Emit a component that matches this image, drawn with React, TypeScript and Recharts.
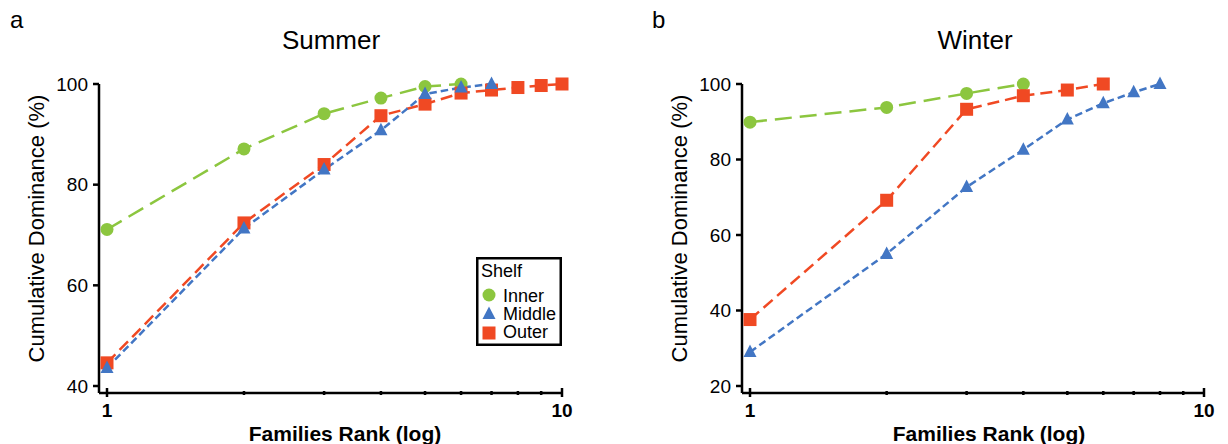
import React from 'react';
import { LineChart, Line, XAxis, YAxis, Legend } from 'recharts';

const GREEN = '#8cc63f';
const BLUE = '#4276c4';
const RED = '#f04923';
const FONT = '"Liberation Sans", Arial, sans-serif';

// family rank (x) and cumulative dominance in % (y)
const ranks = [1, 2, 3, 4, 5, 6, 7, 8, 9, 10];
const summerInner = [71.1, 87.1, 94.1, 97.2, 99.5, 100];
const summerMiddle = [43.6, 71.3, 83.0, 90.8, 98.0, 99.3, 100];
const summerOuter = [44.6, 72.4, 84.0, 93.7, 96.0, 98.2, 98.8, 99.3, 99.7, 100];
const winterInner = [89.9, 93.8, 97.5, 100];
const winterMiddle = [29.0, 55.0, 72.7, 82.6, 90.6, 94.9, 97.8, 100];
const winterOuter = [37.6, 69.2, 93.3, 96.9, 98.4, 100];

const shelves = ['Inner', 'Middle', 'Outer'];
const rankLabels = [1, 10];
const summerYTicks = [40, 60, 80, 100];
const winterYTicks = [20, 40, 60, 80, 100];

const toPoints = (values: number[]) => values.map((v, i) => ({ rank: ranks[i], value: v }));

function marker(name: string, cx: number, cy: number, key?: any) {
  if (name === 'Inner') return <circle key={key} cx={cx} cy={cy} r={6.5} fill={GREEN} />;
  if (name === 'Middle')
    return (
      <polygon
        key={key}
        points={`${cx},${cy - 7.5} ${cx + 6.5},${cy + 5} ${cx - 6.5},${cy + 5}`}
        fill={BLUE}
      />
    );
  return <rect key={key} x={cx - 6.5} y={cy - 6.5} width={13} height={13} fill={RED} />;
}

const dotFor = (name: string) => (props: any) => {
  const { cx, cy, index } = props;
  if (cx == null || cy == null) return null;
  return marker(name, cx, cy, index);
};

function XTick(props: any) {
  const { x, y, payload } = props;
  const major = rankLabels.includes(payload.value);
  return (
    <g>
      <line
        x1={x}
        x2={x}
        y1={y - (major ? 5 : 2)}
        y2={y + (major ? 4 : 2)}
        stroke="#000"
        strokeWidth={2.5}
      />
      {major && (
        <text x={x} y={y + 24} textAnchor="middle" fontSize={19} fontWeight="bold" fill="#000">
          {payload.value}
        </text>
      )}
    </g>
  );
}

function ShelfLegend(props: any) {
  const items = [...(props.payload || [])].sort(
    (a: any, b: any) => shelves.indexOf(a.value) - shelves.indexOf(b.value)
  );
  return (
    <svg width={86} height={89} style={{ display: 'block' }}>
      <rect x={1.25} y={1.25} width={83.5} height={86.5} fill="#fff" stroke="#000" strokeWidth={2.5} />
      <text x={5} y={20} fontSize={18} fill="#000">
        Shelf
      </text>
      {items.map((it: any, i: number) => (
        <g key={it.value}>
          {marker(it.value, 13, 38 + i * 19)}
          <text x={27} y={45 + i * 18} fontSize={18} fill="#000">
            {it.value}
          </text>
        </g>
      ))}
    </svg>
  );
}

interface PanelProps {
  left: number;
  inner: number[];
  middle: number[];
  outer: number[];
  yDomain: [number, number];
  yTicks: number[];
  yWidth: number;
  rightMargin: number;
  yLabelDx: number;
  xLabelDx: number;
  showLegend?: boolean;
}

function Panel(p: PanelProps) {
  return (
    <div style={{ position: 'absolute', left: p.left, top: 0 }}>
      <LineChart width={614} height={444} margin={{ top: 84, right: p.rightMargin, bottom: 0, left: 0 }}>
        <XAxis
          dataKey="rank"
          type="number"
          scale="log"
          domain={[1, 10]}
          ticks={ranks}
          padding={{ left: 8, right: 0 }}
          height={51}
          axisLine={{ stroke: '#000', strokeWidth: 2.5 }}
          tickLine={false}
          tickSize={0}
          tickMargin={0}
          tick={<XTick />}
          interval={0}
          label={{
            value: 'Families Rank (log)',
            position: 'insideBottom',
            offset: 3,
            dx: p.xLabelDx,
            style: { fontSize: 21, fontWeight: 'bold', fill: '#000', fontFamily: FONT },
          }}
        />
        <YAxis
          type="number"
          domain={p.yDomain}
          ticks={p.yTicks}
          width={p.yWidth}
          padding={{ top: 0, bottom: 7 }}
          axisLine={{ stroke: '#000', strokeWidth: 2.5 }}
          tickLine={{ stroke: '#000', strokeWidth: 2.5 }}
          tickSize={6}
          tickMargin={5}
          tick={{ fill: '#000', fontSize: 19, fontFamily: FONT }}
          label={{
            value: 'Cumulative Dominance (%)',
            angle: -90,
            position: 'center',
            dx: p.yLabelDx,
            dy: -10,
            style: { fontSize: 22, fill: '#000', textAnchor: 'middle', fontFamily: FONT },
          }}
        />
        <Line
          name="Inner"
          data={toPoints(p.inner)}
          dataKey="value"
          stroke={GREEN}
          strokeWidth={2.5}
          strokeDasharray="17 8"
          dot={dotFor('Inner')}
          activeDot={false}
          isAnimationActive={false}
        />
        <Line
          name="Outer"
          data={toPoints(p.outer)}
          dataKey="value"
          stroke={RED}
          strokeWidth={2.5}
          strokeDasharray="12 6"
          dot={dotFor('Outer')}
          activeDot={false}
          isAnimationActive={false}
        />
        <Line
          name="Middle"
          data={toPoints(p.middle)}
          dataKey="value"
          stroke={BLUE}
          strokeWidth={2.5}
          strokeDasharray="7.5 4"
          dot={dotFor('Middle')}
          activeDot={false}
          isAnimationActive={false}
        />
        {p.showLegend && (
          <Legend
            layout="vertical"
            align="center"
            verticalAlign="middle"
            content={<ShelfLegend />}
            wrapperStyle={{ left: 476, top: 257, width: 86, height: 89 }}
          />
        )}
      </LineChart>
    </div>
  );
}

export default function App() {
  return (
    <div style={{ position: 'relative', width: 1228, height: 444, background: '#fff', fontFamily: FONT }}>
      <style>{'body{margin:0}'}</style>
      <Panel
        left={0}
        inner={summerInner}
        middle={summerMiddle}
        outer={summerOuter}
        yDomain={[40, 100]}
        yTicks={summerYTicks}
        yWidth={99}
        rightMargin={52}
        yLabelDx={-13.5}
        xLabelDx={14.5}
        showLegend
      />
      <Panel
        left={614}
        inner={winterInner}
        middle={winterMiddle}
        outer={winterOuter}
        yDomain={[20, 100]}
        yTicks={winterYTicks}
        yWidth={128}
        rightMargin={24}
        yLabelDx={1}
        xLabelDx={16}
      />
      <svg
        width={1228}
        height={444}
        style={{ position: 'absolute', left: 0, top: 0, pointerEvents: 'none' }}
        fontFamily={FONT}
      >
        <text x={10} y={28} fontSize={24} fill="#000">a</text>
        <text x={652} y={28} fontSize={24} fill="#000">b</text>
        <text x={331} y={49} fontSize={26} textAnchor="middle" fill="#000">Summer</text>
        <text x={975} y={49} fontSize={26} textAnchor="middle" fill="#000">Winter</text>
      </svg>
    </div>
  );
}
